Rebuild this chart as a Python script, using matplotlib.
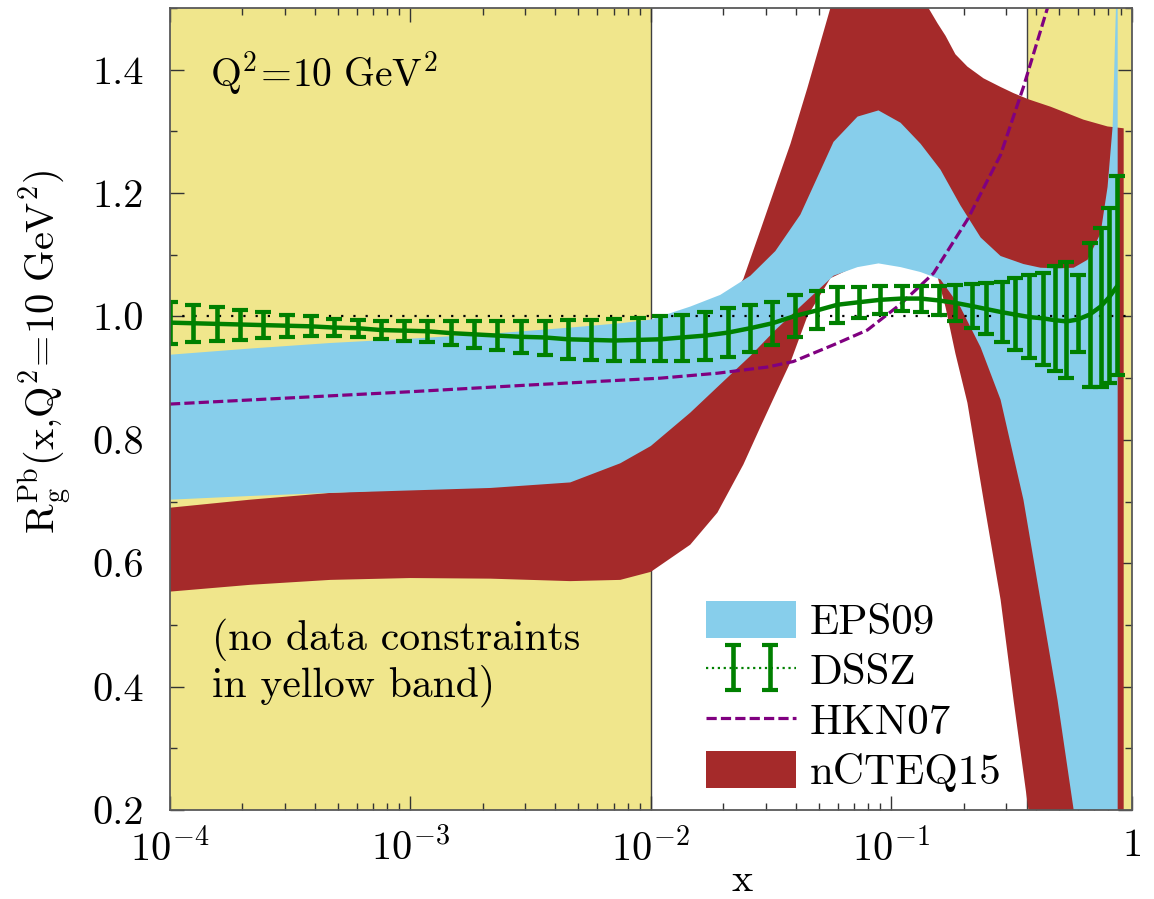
import numpy as np
import matplotlib.pyplot as plt
from matplotlib.legend_handler import HandlerErrorbar
from matplotlib.container import ErrorbarContainer
from matplotlib.ticker import FixedLocator, LogLocator, NullFormatter

plt.rcParams['mathtext.fontset'] = 'cm'
plt.rcParams['font.family'] = 'cmr10'
plt.rcParams['axes.unicode_minus'] = False

# no-data (yellow) x ranges
nodata_bands = [(1e-4, 1e-2), (0.366, 1.0)]

# EPS09 band (log10 x, lower, upper)
eps_logx = [-4.0, -3.667, -3.333, -3.0, -2.667, -2.335, -2.127, -2.0, -1.836, -1.711,
            -1.586, -1.482, -1.378, -1.24, -1.14, -1.053, -0.961, -0.878, -0.795, -0.712,
            -0.628, -0.545, -0.45, -0.379, -0.308, -0.241, -0.183, -0.129, -0.1, -0.079, -0.058]
eps_hi = [0.938, 0.948, 0.957, 0.964, 0.972, 0.982, 0.989, 0.995, 1.016, 1.035,
          1.066, 1.106, 1.165, 1.283, 1.324, 1.334, 1.314, 1.280, 1.238, 1.18,
          1.128, 1.098, 1.085, 1.079, 1.078, 1.079, 1.092, 1.135, 1.21, 1.308, 1.6]
eps_lo = [0.703, 0.709, 0.714, 0.718, 0.722, 0.731, 0.762, 0.790, 0.844, 0.89,
          0.936, 0.978, 1.016, 1.066, 1.080, 1.086, 1.080, 1.072, 1.060, 1.015,
          0.95, 0.865, 0.703, 0.54, 0.378, 0.2, 0.05, -0.1, -0.2, -0.3, -0.4]

# nCTEQ15 band
nc_logx = [-4.0, -3.667, -3.333, -3.0, -2.667, -2.335, -2.127, -2.0, -1.836, -1.723,
           -1.615, -1.544, -1.473, -1.419, -1.349, -1.253, -1.128, -1.053, -0.961, -0.845,
           -0.807, -0.774, -0.733, -0.683, -0.616, -0.545, -0.491, -0.429, -0.337, -0.2,
           -0.1, -0.033]
nc_hi = [0.69, 0.703, 0.714, 0.72, 0.725, 0.735, 0.77, 0.81, 0.90, 0.99,
         1.061, 1.14, 1.22, 1.28, 1.37, 1.50, 1.62, 1.65, 1.62, 1.50,
         1.475, 1.455, 1.425, 1.405, 1.386, 1.372, 1.362, 1.352, 1.340, 1.319,
         1.308, 1.305]
nc_lo = [0.554, 0.565, 0.573, 0.576, 0.575, 0.571, 0.573, 0.586, 0.63, 0.682,
         0.76, 0.821, 0.881, 0.926, 1.0, 1.062, 1.085, 1.09, 1.088, 1.075,
         1.064, 1.015, 0.94, 0.86, 0.703, 0.541, 0.378, 0.2, -0.1, -0.4,
         -0.5, -0.5]

# HKN07 central curve
hkn_logx = [-4.0, -3.0, -2.5, -1.96, -1.723, -1.515, -1.407, -1.24, -1.099, -0.961,
            -0.824, -0.683, -0.545, -0.45, -0.35, -0.254]
hkn = [0.858, 0.878, 0.889, 0.90, 0.908, 0.918, 0.927, 0.954, 0.978, 1.02,
       1.07, 1.157, 1.262, 1.372, 1.5, 1.65]

# DSSZ central value with error bar ends
dssz_logx = [-4.0, -3.903, -3.806, -3.709, -3.612, -3.514, -3.414, -3.317, -3.22, -3.123,
             -3.026, -2.929, -2.832, -2.735, -2.638, -2.539, -2.442, -2.345, -2.248, -2.151,
             -2.053, -1.96, -1.869, -1.773, -1.677, -1.586, -1.494, -1.399, -1.307, -1.224,
             -1.136, -1.045, -0.957, -0.878, -0.803, -0.733, -0.666, -0.604, -0.541, -0.483,
             -0.425, -0.37, -0.32, -0.271, -0.225, -0.175, -0.129, -0.096, -0.062]
dssz_c = [0.990, 0.989, 0.988, 0.987, 0.986, 0.985, 0.984, 0.982, 0.981, 0.978,
          0.977, 0.976, 0.973, 0.971, 0.969, 0.967, 0.966, 0.963, 0.962, 0.961,
          0.962, 0.963, 0.966, 0.969, 0.974, 0.981, 0.989, 1.001, 1.010, 1.019,
          1.023, 1.027, 1.029, 1.029, 1.026, 1.022, 1.017, 1.012, 1.007, 1.003,
          0.999, 0.997, 0.994, 0.992, 0.995, 1.003, 1.016, 1.030, 1.048]
dssz_lo = [0.956, 0.959, 0.961, 0.962, 0.965, 0.967, 0.968, 0.968, 0.967, 0.963,
           0.961, 0.959, 0.954, 0.949, 0.945, 0.941, 0.938, 0.931, 0.930, 0.927,
           0.927, 0.927, 0.928, 0.930, 0.935, 0.943, 0.954, 0.966, 0.979, 0.990,
           0.998, 1.004, 1.009, 1.008, 1.002, 0.993, 0.982, 0.971, 0.959, 0.946,
           0.932, 0.922, 0.911, 0.900, 0.943, 0.886, 0.886, 0.892, 0.905]
dssz_hi = [1.024, 1.019, 1.016, 1.011, 1.007, 1.003, 1.000, 0.996, 0.995, 0.993,
           0.993, 0.993, 0.992, 0.992, 0.992, 0.993, 0.993, 0.995, 0.995, 0.996,
           0.997, 1.000, 1.003, 1.008, 1.013, 1.019, 1.024, 1.035, 1.041, 1.048,
           1.048, 1.049, 1.049, 1.049, 1.049, 1.051, 1.053, 1.055, 1.056, 1.062,
           1.067, 1.071, 1.081, 1.089, 1.067, 1.119, 1.143, 1.176, 1.227]

yticks = [0.2, 0.4, 0.6, 0.8, 1.0, 1.2, 1.4]
ytick_labels = ['0.2', '0.4', '0.6', '0.8', '1.0', '1.2', '1.4']
xticks = [1e-4, 1e-3, 1e-2, 1e-1, 1.0]
xtick_labels = [r'$\mathrm{10^{-4}}$', r'$\mathrm{10^{-3}}$', r'$\mathrm{10^{-2}}$',
                r'$\mathrm{10^{-1}}$', r'$\mathrm{1}$']


class DsszHandler(HandlerErrorbar):
    # dotted line across the whole handle, two bars inside it
    def get_xdata(self, legend, xdescent, ydescent, width, height, fontsize):
        xdata = np.array([-xdescent, -xdescent + width])
        xm = np.array([-xdescent + 0.3 * width, -xdescent + 0.71 * width])
        return xdata, xm


FS = 29
fig = plt.figure(figsize=(11.54, 8.99), dpi=100)
ax = fig.add_axes([0.1473, 0.0990, 0.8333, 0.8921])
ax.set_xscale('log')

for lo, hi in nodata_bands:
    ax.axvspan(lo, hi, color='khaki', lw=0, zorder=0)
    ax.axvline(lo if lo > 1e-4 else hi, color='0.25', lw=1.0, zorder=1)

nc = ax.fill_between(10 ** np.array(nc_logx), nc_lo, nc_hi, color='brown', lw=0, zorder=2)
eps = ax.fill_between(10 ** np.array(eps_logx), eps_lo, eps_hi, color='skyblue', lw=0, zorder=3)
ax.axhline(1.0, color='black', lw=1.6, ls=(0, (1, 4.5)), zorder=4)
hk, = ax.plot(10 ** np.array(hkn_logx), hkn, color='purple', lw=2.3, dashes=(3.2, 1.3), zorder=5)

dx = 10 ** np.array(dssz_logx)
dc = np.array(dssz_c)
yerr = [dc - np.array(dssz_lo), np.array(dssz_hi) - dc]
eb = ax.errorbar(dx, dc, yerr=yerr, color='green', ls=':', lw=1.6, elinewidth=3.3,
                 capsize=5.5, capthick=3, zorder=6)
ax.plot(dx, dc, color='green', lw=3.2, zorder=6)

ax.set_xlim(1e-4, 1)
ax.set_ylim(0.2, 1.5)
ax.set_xticks(xticks, xtick_labels)
ax.xaxis.set_minor_locator(LogLocator(base=10, subs=np.arange(2, 10)))
ax.xaxis.set_minor_formatter(NullFormatter())
ax.set_yticks(yticks, ytick_labels)
ax.yaxis.set_minor_locator(FixedLocator([0.3, 0.5, 0.7, 0.9, 1.1, 1.3, 1.5]))
ax.tick_params(which='both', direction='in', top=True, right=True, width=1.0, color='0.2',
               labelsize=FS)
ax.tick_params(which='major', length=10)
ax.tick_params(which='minor', length=5)
ax.tick_params(axis='y', which='major', pad=19)
ax.tick_params(axis='x', which='major', pad=13)
for s in ax.spines.values():
    s.set_linewidth(1.3)
    s.set_color('0.35')
    s.set_zorder(10)

leg = ax.legend([eps, eb, hk, nc], ['EPS09', 'DSSZ', 'HKN07', 'nCTEQ15'],
                loc='upper left', bbox_to_anchor=(706 / 1154, 1 - 601 / 899),
                bbox_transform=fig.transFigure, frameon=False, fontsize=31,
                handlelength=2.1, handleheight=0.95, labelspacing=0.2,
                handletextpad=0.3, borderpad=0, borderaxespad=0,
                handler_map={ErrorbarContainer: DsszHandler(yerr_size=0.53)})
leg.set_zorder(20)

fig.text(210 / 1154, 1 - 87 / 899, r'$\mathrm{Q^2\!=\!10\ GeV^2}$', fontsize=28.5, va='baseline')
fig.text(212 / 1154, 1 - 650 / 899, '(no data constraints', fontsize=30, va='baseline')
fig.text(212 / 1154, 1 - 697 / 899, 'in yellow band)', fontsize=30, va='baseline')
fig.text(45 / 1154, 1 - 352 / 899, r'$\mathrm{R_g^{Pb}(x{,}Q^2\!=\!10\ GeV^2)}$', fontsize=FS,
         rotation=90, ha='center', va='center')
fig.text(742 / 1154, 1 - 891 / 899, r'$\mathrm{x}$', fontsize=FS, ha='center', va='baseline')

fig.savefig('out.png', dpi=100)
